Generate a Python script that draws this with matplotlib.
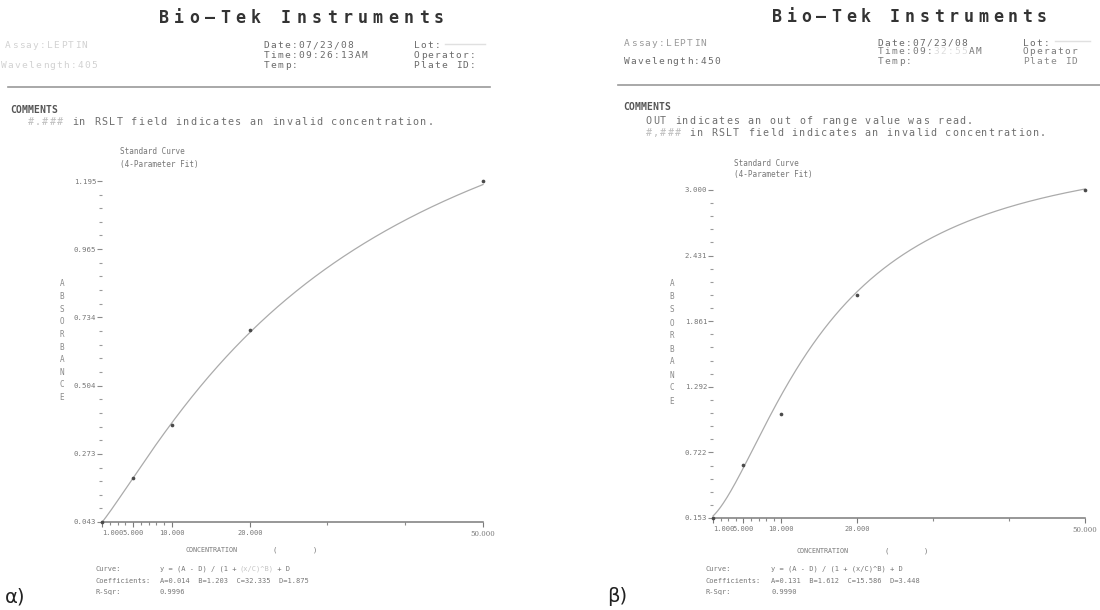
import numpy as np
import matplotlib
matplotlib.use("Agg")
import matplotlib.pyplot as plt
from matplotlib.ticker import FixedLocator
from matplotlib.lines import Line2D

W, H = 1100, 610

# Standard concentrations and measured optical densities
conc = [1, 5, 10, 20, 50]
od_405 = [0.043, 0.19, 0.37, 0.69, 1.195]
od_450 = [0.153, 0.61, 1.06, 2.09, 3.000]

# 4-parameter logistic fit coefficients
coef_405 = {"A": 0.014, "B": 1.203, "C": 32.335, "D": 1.875}
coef_450 = {"A": 0.131, "B": 1.612, "C": 15.586, "D": 3.448}
rsq_405 = "0.9996"
rsq_450 = "0.9990"

yticks_405 = [0.043, 0.273, 0.504, 0.734, 0.965, 1.195]
yticks_450 = [0.153, 0.722, 1.292, 1.861, 2.431, 3.000]
xticks = [1, 5, 10, 20, 50]
xtick_labels = ["1.000", "5.000", "10.000", "20.000", "50.000"]
xminor = [2, 3, 4, 6, 7, 8, 9, 30, 40]

MONO = "DejaVu Sans Mono"
SMALL = 5.0

fig = plt.figure(figsize=(W / 100, H / 100), dpi=100)
fig.patch.set_facecolor("white")


def fx(x):
    return x / W


def fy(y):
    return 1 - y / H


def put(x, y, s, size=SMALL, color="#777777", family=MONO, **kw):
    fig.text(fx(x), fy(y), s, fontsize=size, color=color, family=family,
             ha=kw.pop("ha", "left"), va="center", **kw)


def prn(x, y, s, pitch, size, color, weight="normal"):
    """Print-head style text: one glyph per fixed-width cell."""
    for i, ch in enumerate(s):
        if ch == " ":
            continue
        fig.text(fx(x + (i + 0.5) * pitch), fy(y), ch, ha="center", va="center",
                 fontsize=size, color=color, family=MONO, weight=weight)


def hline(x0, x1, y, color="#9a9a9a", lw=1.2):
    fig.add_artist(Line2D([fx(x0), fx(x1)], [fy(y), fy(y)], color=color, lw=lw,
                          transform=fig.transFigure))


def fourpl(x, A, B, C, D):
    x = np.asarray(x, dtype=float)
    return (A - D) / (1 + (x / C) ** B) + D


def panel(left, right, top, bottom, y, yt, coef):
    ax = fig.add_axes([fx(left), fy(bottom), (right - left) / W, (bottom - top) / H])
    ax.set_facecolor("none")
    ax.set_xlim(1, 50)
    ax.set_ylim(yt[0], yt[-1])
    xs = np.linspace(1, 50, 400)
    ax.plot(xs, fourpl(xs, **coef), color="#ababab", lw=0.9, clip_on=False)
    ax.scatter(conc, y, s=7, color="#4a4a4a", zorder=3, clip_on=False, linewidths=0)
    for s in ["top", "right", "left"]:
        ax.spines[s].set_visible(False)
    ax.spines["bottom"].set_color("#7a7a7a")
    ax.spines["bottom"].set_linewidth(1.1)

    ax.set_yticks(yt)
    ax.set_yticklabels([f"{v:.3f}" for v in yt])
    minors = []
    for a, b in zip(yt[:-1], yt[1:]):
        minors.extend(np.linspace(a, b, 6)[1:-1])
    ax.yaxis.set_minor_locator(FixedLocator(minors))
    ax.tick_params(axis="y", which="major", length=3.5, width=0.8, color="#8a8a8a",
                   labelsize=5.3, labelcolor="#777777", pad=0.5)
    ax.tick_params(axis="y", which="minor", length=2.2, width=0.8, color="#9a9a9a")

    ax.set_xticks(xticks)
    ax.set_xticklabels(xtick_labels)
    ax.xaxis.set_minor_locator(FixedLocator(xminor))
    ax.tick_params(axis="x", which="major", length=3.5, width=0.8, color="#7a7a7a",
                   labelsize=SMALL, labelcolor="#777777", pad=2.5)
    ax.tick_params(axis="x", which="minor", length=2, width=0.8, color="#8a8a8a")
    labs = ax.get_xticklabels()
    for lab in labs:
        lab.set_family(MONO)
    labs[0].set_ha("left")
    labs[-1].set_family("DejaVu Serif")
    for lab in ax.get_yticklabels():
        lab.set_family(MONO)
    return ax


def bottom_block(x0, x1, coef, rsq, faint_term=False):
    pitch = 4.2
    put(x0, 569, "Curve:")
    if faint_term:
        put(x1, 569, "y = (A - D) / (1 + ")
        put(x1 + 19 * pitch, 569, "(x/C)^B)", color="#c4c4c4")
        put(x1 + 27 * pitch, 569, " + D")
    else:
        put(x1, 569, "y = (A - D) / (1 + (x/C)^B) + D")
    put(x0, 581, "Coefficients:")
    put(x1, 581, "A={A:.3f}  B={B:.3f}  C={C:.3f}  D={D:.3f}".format(**coef))
    put(x0, 592, "R-Sqr:")
    put(x1, 592, rsq)


# ---------------- left printout (405 nm) ----------------
HP = 7.0   # header character pitch
HS = 6.8   # header font size
prn(156, 18, "Bio—Tek Instruments", 15.3, 12, "#333333", weight="bold")
prn(4, 46, "Assay:LEPTIN", HP, HS, "#d2d2d2")
prn(263, 46, "Date:07/23/08", HP, HS, "#6a6a6a")
prn(413, 46, "Lot:", HP, HS, "#6a6a6a")
hline(445, 485, 44, color="#e0e0e0", lw=1.0)
prn(263, 55, "Time:09:26:13AM", HP, HS, "#6a6a6a")
prn(413, 55, "Operator:", HP, HS, "#6a6a6a")
prn(0, 65, "Wavelength:405", HP, HS, "#d2d2d2")
prn(263, 65, "Temp:", HP, HS, "#6a6a6a")
prn(413, 65, "Plate ID:", HP, HS, "#6a6a6a")
hline(8, 490, 87)
prn(10, 110, "COMMENTS", 5.9, 7, "#555555", weight="bold")
prn(27, 122, "#.###", 7.4, 7.3, "#bdbdbd")
prn(27 + 5 * 7.4, 122, " in RSLT field indicates an invalid concentration.", 7.4, 7.3, "#6f6f6f")

panel(102, 483, 181, 522, od_405, yticks_405, coef_405)
put(120, 152, "Standard Curve", size=5.5)
put(120, 164, "(4-Parameter Fit)", size=5.5)
for i, ch in enumerate("ABSORBANCE"):
    put(62, 284 + i * 12.6, ch, size=5.5, color="#8a8a8a", ha="center")
put(186, 550, "CONCENTRATION", size=4.8)
put(273, 550, "(")
put(313, 550, ")")
bottom_block(95, 160, coef_405, rsq_405, faint_term=True)
fig.text(fx(5), fy(597), "α)", fontsize=14, color="#222222", ha="left", va="center")

# ---------------- right printout (450 nm) ----------------
prn(770, 17, "Bio—Tek Instruments", 14.7, 12, "#333333", weight="bold")
prn(623, 43, "Assay:LEPTIN", HP, HS, "#9a9a9a")
prn(877, 43, "Date:07/23/08", HP, HS, "#6a6a6a")
prn(1022, 43, "Lot:", HP, HS, "#6a6a6a")
hline(1055, 1090, 41, color="#e0e0e0", lw=1.0)
prn(877, 52, "Time:09:", HP, HS, "#7a7a7a")
prn(877 + 8 * HP, 52, "32:55", HP, HS, "#dddddd")
prn(877 + 13 * HP, 52, "AM", HP, HS, "#7a7a7a")
prn(1022, 52, "Operator", HP, HS, "#7a7a7a")
prn(623, 62, "Wavelength:450", HP, HS, "#6a6a6a")
prn(877, 62, "Temp:", HP, HS, "#7a7a7a")
prn(1022, 62, "Plate ID", HP, HS, "#8a8a8a")
hline(618, 1100, 85)
prn(623, 107, "COMMENTS", 5.9, 7, "#555555", weight="bold")
prn(645, 121, "OUT indicates an out of range value was read.", 7.3, 7.2, "#6f6f6f")
prn(645, 133, "#,###", 7.3, 7.2, "#bdbdbd")
prn(645 + 5 * 7.3, 133, " in RSLT field indicates an invalid concentration.", 7.3, 7.2, "#6f6f6f")

panel(713, 1085, 190, 518, od_450, yticks_450, coef_450)
put(734, 163, "Standard Curve", size=5.5)
put(734, 175, "(4-Parameter Fit)", size=5.5)
for i, ch in enumerate("ABSORBANCE"):
    put(672, 284 + i * 13.0, ch, size=5.5, color="#8a8a8a", ha="center")
put(797, 551, "CONCENTRATION", size=4.8)
put(884, 551, "(")
put(924, 551, ")")
bottom_block(706, 771, coef_450, rsq_450)
fig.text(fx(607), fy(597), "β)", fontsize=14, color="#222222", ha="left", va="center")

fig.savefig("out.png", dpi=100, facecolor="white")
